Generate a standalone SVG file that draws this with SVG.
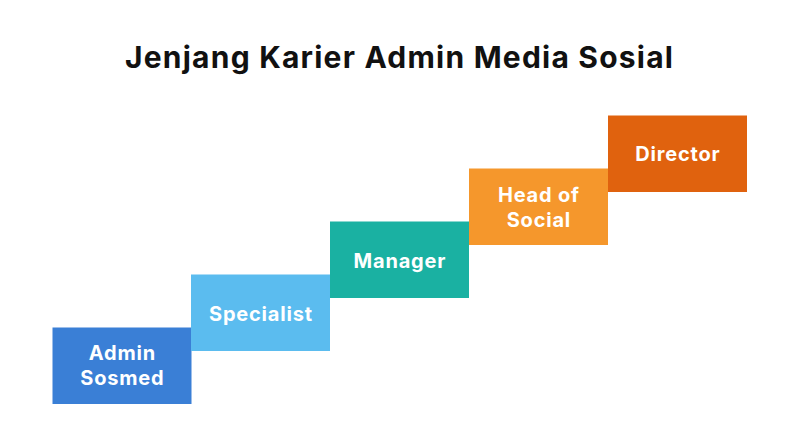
<svg xmlns="http://www.w3.org/2000/svg" width="800" height="446" viewBox="0 0 800 446">
<style>
.title{font-family:Inter,"Open Sans","Liberation Sans",sans-serif;font-weight:700;font-size:30px;fill:#111111}
.lbl{font-family:Inter,"Open Sans","Liberation Sans",sans-serif;font-weight:700;font-size:20px;fill:#ffffff;text-anchor:middle;letter-spacing:0.8px}
</style>
<rect width="800" height="446" fill="#ffffff"/>
<text class="title" x="125" y="68" textLength="548" lengthAdjust="spacing">Jenjang Karier Admin Media Sosial</text>
<g id="connectors"/>
<g id="node-admin">
<rect x="52.5" y="327.5" width="139" height="76.5" fill="#3a7fd6"/>
<text class="lbl" x="122.4" y="360">Admin</text>
<text class="lbl" x="122.4" y="385">Sosmed</text>
</g>
<g id="node-specialist">
<rect x="191" y="274.5" width="139" height="76.5" fill="#5bbcef"/>
<text class="lbl" x="260.9" y="321">Specialist</text>
</g>
<g id="node-manager">
<rect x="330" y="221.5" width="139" height="76.5" fill="#1ab1a2"/>
<text class="lbl" x="399.9" y="268">Manager</text>
</g>
<g id="node-head">
<rect x="469" y="168.5" width="139" height="76.5" fill="#f5972c"/>
<text class="lbl" x="538.9" y="202">Head of</text>
<text class="lbl" x="538.9" y="227">Social</text>
</g>
<g id="node-director">
<rect x="608" y="115.5" width="139" height="76.5" fill="#e0620e"/>
<text class="lbl" x="677.9" y="161">Director</text>
</g>
</svg>
